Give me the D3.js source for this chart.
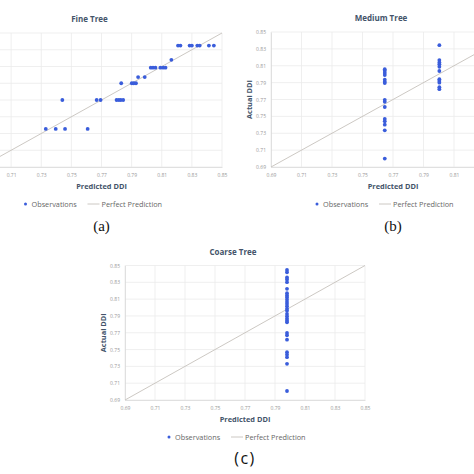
<!DOCTYPE html>
<html>
<head>
<meta charset="utf-8">
<script src="https://cdn.jsdelivr.net/npm/d3@7"></script>
<style>
  html, body { margin: 0; padding: 0; background: #fff; }
  svg { display: block; }
</style>
</head>
<body>
<script>
// shared axis ticks (both axes run 0.69 .. 0.85)
const ticks = [0.69, 0.71, 0.73, 0.75, 0.77, 0.79, 0.81, 0.83, 0.85];

// Fine Tree: predicted / actual pairs
const fineTreePred = [0.733, 0.7396, 0.7458, 0.7608,
    0.744, 0.7668, 0.7694, 0.780, 0.7815, 0.7828, 0.7844,
    0.7831,
    0.7901, 0.7914, 0.7929,
    0.7943, 0.7987,
    0.8027, 0.8042, 0.8058, 0.8091, 0.8109, 0.8125,
    0.8164,
    0.8208, 0.8224, 0.8285, 0.830, 0.8336, 0.8352, 0.8413, 0.8446];
const fineTreeActual = [0.7355, 0.7355, 0.7355, 0.7355,
    0.770, 0.770, 0.770, 0.770, 0.770, 0.770, 0.770,
    0.790,
    0.790, 0.790, 0.790,
    0.7974, 0.7974,
    0.8086, 0.8086, 0.8086, 0.8086, 0.8086, 0.8086,
    0.818,
    0.835, 0.835, 0.835, 0.835, 0.835, 0.835, 0.835, 0.835];

// Medium Tree: two leaf predictions
const mediumTreePred = [0.7646, 0.7646, 0.7646, 0.7646, 0.7646, 0.7646, 0.7646, 0.7646,
    0.7646, 0.7646, 0.7646, 0.7646, 0.7646, 0.7646, 0.7646,
    0.8004, 0.8004, 0.8004, 0.8004, 0.8004, 0.8004, 0.8004, 0.8004, 0.8004, 0.8004, 0.8004];
const mediumTreeActual = [0.806, 0.804, 0.8015, 0.799, 0.7935, 0.791, 0.7895, 0.7696,
    0.7673, 0.7611, 0.7469, 0.7441, 0.7402, 0.7335, 0.700,
    0.8344, 0.8167, 0.8140, 0.8117, 0.8088, 0.8038, 0.7940, 0.7920, 0.7900, 0.7846, 0.7822];

// Coarse Tree: a single prediction for every observation
const coarseTreeActual = [0.8447, 0.8420, 0.8357, 0.8334, 0.8302, 0.8222, 0.8171, 0.8144,
    0.8120, 0.8092, 0.8065, 0.8041, 0.8014, 0.7985, 0.7962, 0.7923, 0.7895, 0.7867,
    0.7843, 0.7824, 0.7697, 0.7670, 0.7618, 0.7469, 0.7440, 0.7409, 0.7330, 0.7007];
const coarseTreePred = coarseTreeActual.map(() => 0.798);

const W = 474, H = 474;
const FONT = "'Open Sans', 'Noto Sans', sans-serif";

const svg = d3.select("body").append("svg")
    .attr("width", W).attr("height", H)
    .attr("viewBox", `0 0 ${W} ${H}`);

const panels = [
    { title: "Fine Tree", tag: "(a)", pred: fineTreePred, actual: fineTreeActual,
      x0: -19, x1: 222, y0: 167, y1: 33, tagFont: "'Liberation Serif', serif", tagSize: 15, tagSpacing: 0 },
    { title: "Medium Tree", tag: "(b)", pred: mediumTreePred, actual: mediumTreeActual,
      x0: 271, x1: 515, y0: 167, y1: 32, tagFont: "'Liberation Serif', serif", tagSize: 15, tagSpacing: 0 },
    { title: "Coarse Tree", tag: "(c)", pred: coarseTreePred, actual: coarseTreeActual,
      x0: 125, x1: 365, y0: 400, y1: 265.5, tagFont: "'Open Sans', sans-serif", tagSize: 16, tagSpacing: 1.5 }
];

panels.forEach(drawPanel);

// the reference is a crop: labels that fall past the page edge are not shown there
svg.selectAll("text").each(function () {
    const b = this.getBBox();
    const m = this.getScreenCTM();
    const left = m ? m.e + b.x * m.a + b.y * m.c : b.x;
    const xs = this.getAttribute("transform") && this.getAttribute("transform").includes("rotate")
        ? [m.e + b.y, m.e + b.y + b.height] : [left, left + b.width];
    if (xs[0] < 0 || xs[1] > W) d3.select(this).remove();
});

function drawPanel(p) {
    const x = d3.scaleLinear().domain([ticks[0], ticks[ticks.length - 1]]).range([p.x0, p.x1]);
    const y = d3.scaleLinear().domain([ticks[0], ticks[ticks.length - 1]]).range([p.y0, p.y1]);
    const g = svg.append("g");
    const cx = (p.x0 + p.x1) / 2;

    // grid
    g.append("g").selectAll("line.v").data(ticks).enter().append("line")
        .attr("x1", d => x(d)).attr("x2", d => x(d))
        .attr("y1", p.y0).attr("y2", p.y1)
        .attr("stroke", "#ebebeb").attr("stroke-width", 0.8);
    g.append("g").selectAll("line.h").data(ticks).enter().append("line")
        .attr("x1", p.x0).attr("x2", p.x1)
        .attr("y1", d => y(d)).attr("y2", d => y(d))
        .attr("stroke", "#ebebeb").attr("stroke-width", 0.8);

    // axes
    const xAxis = g.append("g").attr("transform", `translate(0,${p.y0})`)
        .call(d3.axisBottom(x).tickValues(ticks).tickSize(0).tickPadding(6).tickFormat(d3.format(".2f")));
    xAxis.select(".domain").attr("stroke", "#d9d9d9").attr("stroke-width", 0.8);
    const yAxis = g.append("g").attr("transform", `translate(${p.x0},0)`)
        .call(d3.axisLeft(y).tickValues(ticks).tickSize(0).tickPadding(5).tickFormat(d3.format(".2f")));
    yAxis.select(".domain").attr("stroke", "#d9d9d9").attr("stroke-width", 0.8);
    g.selectAll(".tick text")
        .attr("font-family", FONT).attr("font-size", 5).attr("fill", "#999");

    // perfect prediction line
    const line = d3.line().x(d => x(d)).y(d => y(d));
    g.append("path").datum(x.domain())
        .attr("d", line)
        .attr("fill", "none").attr("stroke", "#c6c2bc").attr("stroke-width", 0.9);

    // observations
    g.append("g").selectAll("circle").data(p.pred.map((v, i) => [v, p.actual[i]]))
        .enter().append("circle")
        .attr("cx", d => x(d[0])).attr("cy", d => y(d[1]))
        .attr("r", 1.9).attr("fill", "#3a5ddb");

    // titles
    g.append("text").attr("x", cx - 12).attr("y", p.y1 - 11)
        .attr("text-anchor", "middle").attr("font-family", FONT)
        .attr("font-size", 8).attr("font-weight", "bold").attr("fill", "#44546a")
        .text(p.title);
    g.append("text").attr("x", cx).attr("y", p.y0 + 21.5)
        .attr("text-anchor", "middle").attr("font-family", FONT)
        .attr("font-size", 7.4).attr("font-weight", "bold").attr("fill", "#44546a")
        .text("Predicted DDI");
    g.append("text")
        .attr("transform", `translate(${p.x0 - 19},${(p.y0 + p.y1) / 2}) rotate(-90)`)
        .attr("text-anchor", "middle").attr("font-family", FONT)
        .attr("font-size", 7.4).attr("font-weight", "bold").attr("fill", "#44546a")
        .text("Actual DDI");

    // legend
    const ly = p.y0 + 37;
    g.append("circle").attr("cx", cx - 76).attr("cy", ly).attr("r", 1.5).attr("fill", "#3a5ddb");
    g.append("text").attr("x", cx - 70).attr("y", ly + 2.6)
        .attr("font-family", FONT).attr("font-size", 7.3).attr("fill", "#666")
        .text("Observations");
    g.append("line").attr("x1", cx - 14).attr("x2", cx - 2).attr("y1", ly).attr("y2", ly)
        .attr("stroke", "#c6c2bc").attr("stroke-width", 0.9);
    g.append("text").attr("x", cx).attr("y", ly + 2.6)
        .attr("font-family", FONT).attr("font-size", 7.3).attr("fill", "#666")
        .text("Perfect Prediction");

    // panel tag
    g.append("text").attr("x", cx).attr("y", p.y0 + 64)
        .attr("text-anchor", "middle").attr("font-family", p.tagFont)
        .attr("font-size", p.tagSize).attr("letter-spacing", p.tagSpacing).attr("fill", "#111")
        .text(p.tag);
}
</script>
</body>
</html>
